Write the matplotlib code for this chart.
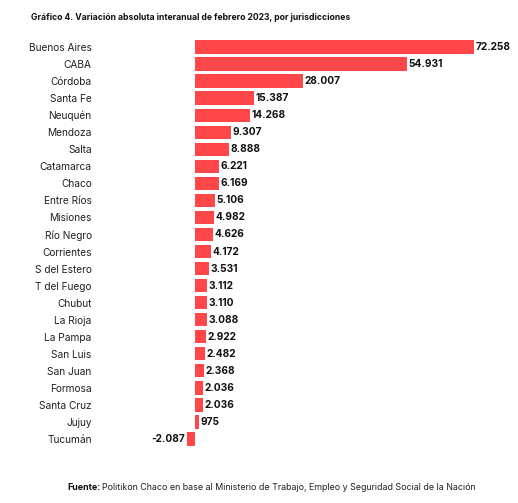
import matplotlib
matplotlib.use('Agg')
import matplotlib.pyplot as plt

plt.rcParams['font.family'] = ['Inter', 'DejaVu Sans']

provincias = ['Buenos Aires', 'CABA', 'Córdoba', 'Santa Fe', 'Neuquén', 'Mendoza',
              'Salta', 'Catamarca', 'Chaco', 'Entre Ríos', 'Misiones', 'Río Negro',
              'Corrientes', 'S del Estero', 'T del Fuego', 'Chubut', 'La Rioja',
              'La Pampa', 'San Luis', 'San Juan', 'Formosa', 'Santa Cruz', 'Jujuy',
              'Tucumán']
variacion = [72258, 54931, 28007, 15387, 14268, 9307, 8888, 6221, 6169, 5106,
             4982, 4626, 4172, 3531, 3112, 3110, 3088, 2922, 2482, 2368, 2036,
             2036, 975, -2087]

color_bar = '#FF474A'
W, H = 518, 503

fig = plt.figure(figsize=(W / 100, H / 100), dpi=100)
# axes placed in pixel terms: left 150px, right 500px, top 38.5px, bottom 447.5px
ax = fig.add_axes([150 / W, 1 - 447.5 / H, 350 / W, 409 / H])

ypos = list(range(len(provincias)))
ax.barh(ypos, variacion, height=0.78, color=color_bar)
px = 1000 / 3.86
ax.set_xlim(-45 * px, 305 * px)
ax.set_ylim(len(provincias) - 0.5, -0.5)

ax.set_yticks(ypos)
ax.set_yticklabels(provincias, fontsize=7.3, color='#222222')
ax.tick_params(axis='y', length=0, pad=42)
ax.set_xticks([])
for s in ax.spines.values():
    s.set_visible(False)


def fmt(v):
    return f'{v:,}'.replace(',', '.')


for y, v in zip(ypos, variacion):
    if v >= 0:
        ax.text(v + 1.5 * px, y, fmt(v), ha='left', va='center',
                fontsize=7.3, fontweight='bold', color='#111111')
    else:
        ax.text(v - 1.5 * px, y, fmt(v).replace('-', '\u2011'), ha='right', va='center',
                fontsize=7.3, fontweight='bold', color='#111111')

fig.text(31 / W, 1 - 18 / H, 'Gráfico 4. Variación absoluta interanual de febrero 2023, por jurisdicciones',
         fontsize=6.2, fontweight='bold', ha='left', va='center', color='#111111')
fig.text(67 / W, 1 - 487 / H, 'Fuente:', fontsize=6.4, fontweight='bold',
         ha='left', va='center', color='#111111')
fig.text(102 / W, 1 - 487 / H,
         'Politikon Chaco en base al Ministerio de Trabajo, Empleo y Seguridad Social de la Nación',
         fontsize=6.4, ha='left', va='center', color='#222222')

plt.savefig('out.png', dpi=100)
